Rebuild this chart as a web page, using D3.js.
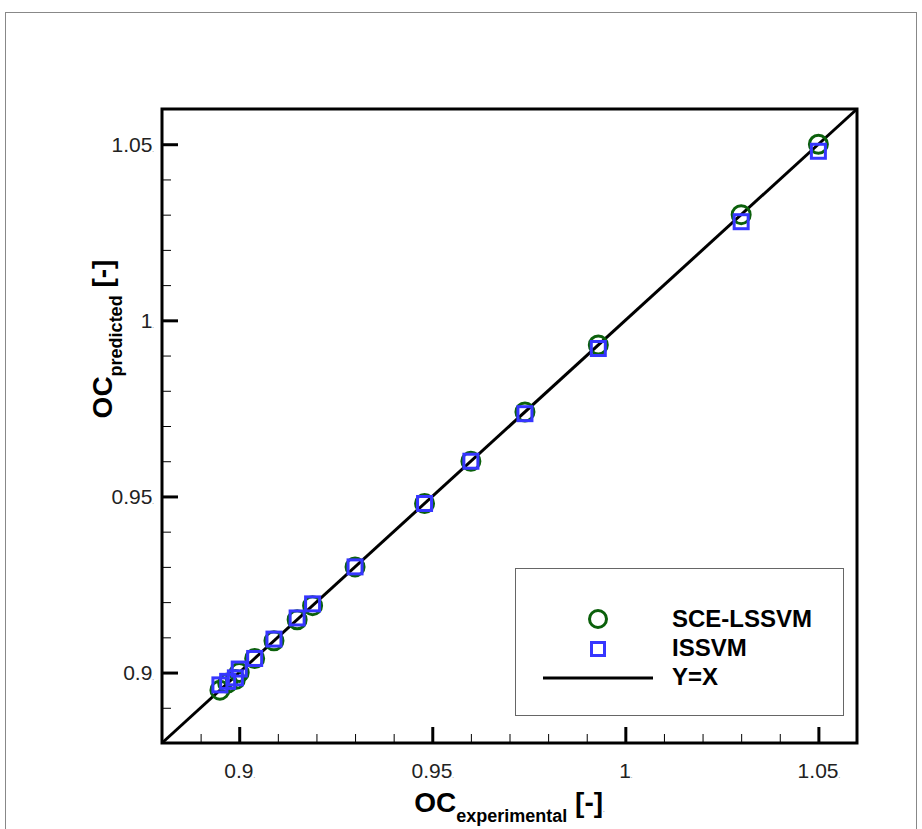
<!DOCTYPE html>
<html>
<head>
<meta charset="utf-8">
<script src="https://cdn.jsdelivr.net/npm/d3@7"></script>
<style>
  body { margin: 0; background: #fff; }
  text { font-family: "Liberation Sans", Arial, sans-serif; }
</style>
</head>
<body>
<div id="chart"></div>
<script>
let width = 922, height = 829;

// data
let ocExperimental = [0.895, 0.897, 0.899, 0.900, 0.904, 0.909, 0.915, 0.919, 0.930, 0.948, 0.960, 0.974, 0.993, 1.030, 1.050];
let sceLssvm      = [0.895, 0.897, 0.898, 0.900, 0.904, 0.909, 0.915, 0.919, 0.930, 0.948, 0.960, 0.974, 0.993, 1.030, 1.050];
let issvm         = [0.8965, 0.8975, 0.8985, 0.901, 0.904, 0.9095, 0.9155, 0.9195, 0.930, 0.948, 0.960, 0.9735, 0.992, 1.028, 1.048];
let majorTicks = [0.9, 0.95, 1, 1.05];
let minorTicks = d3.range(0.88, 1.0601, 0.01).map(d => +d.toFixed(2));
let tickLabels = ["0.9", "0.95", "1", "1.05"];
let legendNames = ["SCE-LSSVM", "ISSVM", "Y=X"];
let domain = [0.88, 1.06];

let margin = {left: 162, top: 109, right: 857, bottom: 743};

let x = d3.scaleLinear().domain(domain).range([margin.left, margin.right]);
let y = d3.scaleLinear().domain(domain).range([margin.bottom, margin.top]);

let svg = d3.select("#chart").append("svg")
    .attr("width", width)
    .attr("height", height);

// outer frame
svg.append("rect")
    .attr("x", 5.5).attr("y", 12.5)
    .attr("width", 911).attr("height", 830)
    .attr("fill", "none")
    .attr("stroke", "#888")
    .attr("stroke-width", 1);

function labelFor(d) {
    return tickLabels[majorTicks.indexOf(d)];
}

// minor ticks
svg.append("g")
    .attr("transform", `translate(0,${margin.bottom})`)
    .call(d3.axisBottom(x).tickValues(minorTicks).tickSize(-9).tickFormat(""))
    .call(g => g.select(".domain").remove())
    .call(g => g.selectAll("line").attr("stroke", "#000").attr("stroke-width", 1));
svg.append("g")
    .attr("transform", `translate(${margin.left},0)`)
    .call(d3.axisLeft(y).tickValues(minorTicks).tickSize(-9).tickFormat(""))
    .call(g => g.select(".domain").remove())
    .call(g => g.selectAll("line").attr("stroke", "#000").attr("stroke-width", 1));

// major ticks + labels
let xAxis = svg.append("g")
    .attr("transform", `translate(0,${margin.bottom})`)
    .call(d3.axisBottom(x).tickValues(majorTicks).tickSize(-16).tickFormat(""));
let yAxis = svg.append("g")
    .attr("transform", `translate(${margin.left},0)`)
    .call(d3.axisLeft(y).tickValues(majorTicks).tickSize(-16).tickFormat(""));

[xAxis, yAxis].forEach(g => {
    g.select(".domain").remove();
    g.selectAll("line").attr("stroke", "#000").attr("stroke-width", 3);
});

xAxis.selectAll(".tick").append("text")
    .attr("y", 35)
    .attr("text-anchor", "middle")
    .attr("fill", "#222")
    .attr("font-size", 21)
    .each(function(d) {
        let t = d3.select(this);
        t.append("tspan").text(labelFor(d));
        t.append("tspan").attr("font-size", 6).text(".");
    });

yAxis.selectAll(".tick").append("text")
    .attr("x", -8)
    .attr("dy", "0.35em")
    .attr("text-anchor", "end")
    .attr("fill", "#222")
    .attr("font-size", 21)
    .each(function(d) {
        let t = d3.select(this);
        t.append("tspan").text(labelFor(d));
        t.append("tspan").attr("font-size", 6).text(".");
    });

// plot box
svg.append("rect")
    .attr("x", margin.left).attr("y", margin.top)
    .attr("width", margin.right - margin.left)
    .attr("height", margin.bottom - margin.top)
    .attr("fill", "none")
    .attr("stroke", "#000")
    .attr("stroke-width", 3);

// Y=X line
svg.append("line")
    .attr("x1", x(domain[0])).attr("y1", y(domain[0]))
    .attr("x2", x(domain[1])).attr("y2", y(domain[1]))
    .attr("stroke", "#000")
    .attr("stroke-width", 3);

// SCE-LSSVM circles
svg.append("g").selectAll("circle")
    .data(ocExperimental)
    .enter().append("circle")
    .attr("cx", d => x(d))
    .attr("cy", (d, i) => y(sceLssvm[i]))
    .attr("r", 9)
    .attr("fill", "none")
    .attr("stroke", "#0b600b")
    .attr("stroke-width", 3);

// ISSVM squares
let sq = 14;
svg.append("g").selectAll("rect")
    .data(ocExperimental)
    .enter().append("rect")
    .attr("x", d => x(d) - sq / 2)
    .attr("y", (d, i) => y(issvm[i]) - sq / 2)
    .attr("width", sq).attr("height", sq)
    .attr("fill", "none")
    .attr("stroke", "#3636ff")
    .attr("stroke-width", 3);

// legend
let legend = svg.append("g");
legend.append("rect")
    .attr("x", 515.5).attr("y", 568.5)
    .attr("width", 328).attr("height", 147)
    .attr("fill", "#fff")
    .attr("stroke", "#666")
    .attr("stroke-width", 1);
legend.append("circle")
    .attr("cx", 598).attr("cy", 619).attr("r", 8.5)
    .attr("fill", "none").attr("stroke", "#0b600b").attr("stroke-width", 3);
legend.append("rect")
    .attr("x", 598 - 6.5).attr("y", 649 - 6.5).attr("width", 13).attr("height", 13)
    .attr("fill", "none").attr("stroke", "#3636ff").attr("stroke-width", 3);
legend.append("line")
    .attr("x1", 543).attr("x2", 653).attr("y1", 678).attr("y2", 678)
    .attr("stroke", "#000").attr("stroke-width", 3);
legend.selectAll("text.lg")
    .data(legendNames)
    .enter().append("text")
    .attr("class", "lg")
    .attr("x", 672)
    .attr("y", (d, i) => 627 + i * 29)
    .attr("font-size", 24)
    .attr("font-weight", "bold")
    .attr("fill", "#000")
    .text(d => d);

// axis titles
let xt = svg.append("text")
    .attr("x", (margin.left + margin.right) / 2)
    .attr("y", 812)
    .attr("text-anchor", "middle")
    .attr("font-weight", "bold")
    .attr("font-size", 28);
xt.append("tspan").text("OC");
xt.append("tspan").attr("font-size", 18).attr("dy", 10).text("experimental");
xt.append("tspan").attr("dy", -10).text(" [-]");
xt.append("tspan").attr("font-size", 6).attr("font-weight", "normal").text(".");

let yt = svg.append("text")
    .attr("transform", "translate(112,339) rotate(-90)")
    .attr("text-anchor", "middle")
    .attr("font-weight", "bold")
    .attr("font-size", 28);
yt.append("tspan").text("OC");
yt.append("tspan").attr("font-size", 18).attr("dy", 10).text("predicted");
yt.append("tspan").attr("dy", -10).text(" [-]");
</script>
</body>
</html>
